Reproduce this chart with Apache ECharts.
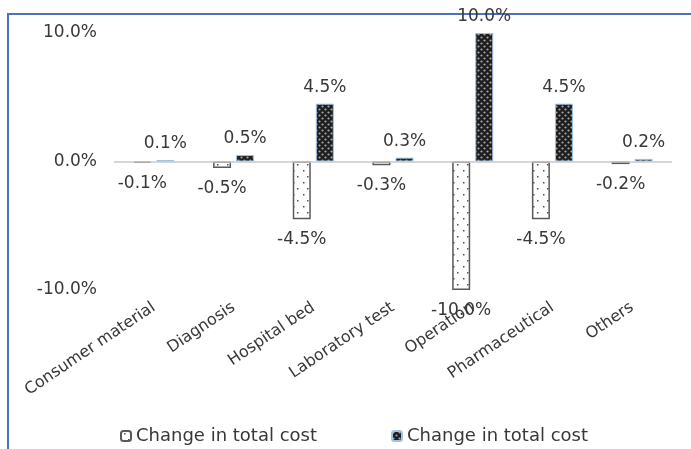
<!DOCTYPE html>
<html>
<head>
<meta charset="utf-8">
<script src="https://cdn.jsdelivr.net/npm/echarts@6/dist/echarts.min.js"></script>
<style>
html,body{margin:0;padding:0;background:#fff;}
#chart{width:691px;height:449px;}
</style>
</head>
<body>
<div id="chart"></div>
<script>
const categories = ['Consumer material','Diagnosis','Hospital bed','Laboratory test','Operation','Pharmaceutical','Others'];
const seriesNames = ['Change in total cost','Change in total cost'];
const negValues = [-0.1,-0.5,-4.5,-0.3,-10.0,-4.5,-0.2];
const posValues = [0.1,0.5,4.5,0.3,10.0,4.5,0.2];
const yTicks = {min:-10, max:10, interval:10};

function makeDarkPattern(){
  const c = document.createElement('canvas');
  c.width = 6; c.height = 6;
  const g = c.getContext('2d');
  g.fillStyle = '#1e1e1e'; g.fillRect(0,0,6,6);
  g.fillStyle = '#a8a8a8';
  [[1.5,1.5],[4.5,4.5]].forEach(p=>{g.beginPath();g.arc(p[0],p[1],1.1,0,Math.PI*2);g.fill();});
  return c;
}
function makeLightPattern(){
  const c = document.createElement('canvas');
  c.width = 10; c.height = 12;
  const g = c.getContext('2d');
  g.fillStyle = '#ffffff'; g.fillRect(0,0,10,12);
  g.fillStyle = '#555555';
  g.fillRect(3,2,1.5,1.5);
  g.fillRect(7,8,1.5,1.5);
  return c;
}

const FONT = 'DejaVu Sans';
const TEXT = '#383838';
const chart = echarts.init(document.getElementById('chart'));
const fmt = v => (typeof v === 'object' ? v.value : v).toFixed(1) + '%';

chart.setOption({
  animation:false,
  textStyle:{fontFamily:FONT},
  grid:{left:114, right:19, top:33, bottom:159, containLabel:false},
  legend:{
    left:115, top:422, itemGap:74, itemWidth:10, itemHeight:10,
    textStyle:{fontFamily:FONT, fontSize:18, color:TEXT},
    data:[{name:'s1'},{name:'s2'}],
    formatter: n => seriesNames[n==='s1'?0:1]
  },
  xAxis:{
    type:'category', data:categories, position:'bottom',
    axisLine:{show:false}, axisTick:{show:false},
    axisLabel:{rotate:34, margin:16, interval:0, fontFamily:FONT, fontSize:16, color:TEXT}
  },
  yAxis:{
    type:'value', min:yTicks.min, max:yTicks.max, interval:yTicks.interval,
    axisLine:{show:false}, axisTick:{show:false}, splitLine:{show:false},
    axisLabel:{margin:17, fontFamily:FONT, fontSize:17, color:TEXT, formatter:v=>v.toFixed(1)+'%'}
  },
  graphic:[
    {type:'polyline', shape:{points:[[8,449],[8,14],[691,14]]}, style:{stroke:'#4a72c0', lineWidth:2, fill:null}}
  ],
  series:[
    {
      name:'s1', type:'bar', data:negValues, barWidth:18, barGap:'28%',
      itemStyle:{color:{image:makeLightPattern(), repeat:'repeat'}, borderColor:'#595959', borderWidth:1.5},
      label:{show:true, position:'bottom', distance:12, fontFamily:FONT, fontSize:17, color:TEXT, formatter:p=>fmt(p.value)},
      markLine:{silent:true, symbol:'none', label:{show:false}, lineStyle:{color:'#c8c8c8', width:1.5, type:'solid'}, data:[{yAxis:0}]}
    },
    {
      name:'s2', type:'bar', data:posValues, barWidth:18,
      itemStyle:{color:{image:makeDarkPattern(), repeat:'repeat'}, borderColor:'#9dc3e6', borderWidth:1},
      label:{show:true, position:'top', distance:8, fontFamily:FONT, fontSize:17, color:TEXT, formatter:p=>fmt(p.value)}
    }
  ]
});
</script>
</body>
</html>
